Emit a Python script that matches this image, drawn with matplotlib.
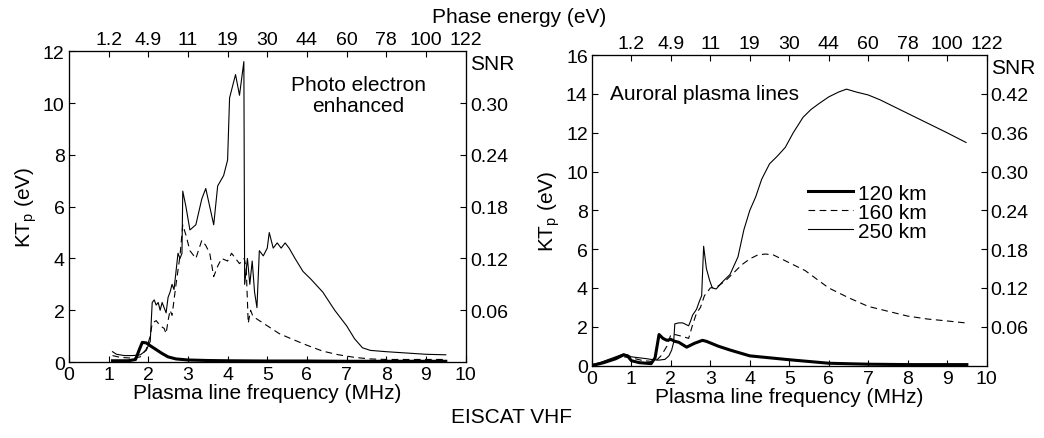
import matplotlib
matplotlib.use('Agg')
from matplotlib import pyplot as plt
from matplotlib.lines import Line2D

plt.rcParams['font.family'] = ['Liberation Sans', 'DejaVu Sans']
plt.rcParams['font.size'] = 14

# top axis labels (phase energy, eV) at 1..10 MHz
energy_ticks = [1, 2, 3, 4, 5, 6, 7, 8, 9, 10]
energy_labels = ['1.2', '4.9', '11', '19', '30', '44', '60', '78', '100', '122']

# ---- left panel: photo electron enhanced ----
l250_f = [1.1, 1.2, 1.4, 1.6, 1.8, 1.95, 2.05, 2.1, 2.15, 2.2, 2.25, 2.3, 2.35, 2.4, 2.45, 2.5, 2.55, 2.6,
          2.65, 2.7, 2.75, 2.8, 2.85, 2.87, 2.95, 3.05, 3.2, 3.35, 3.45, 3.55, 3.65, 3.75, 3.9, 4.0, 4.05,
          4.2, 4.3, 4.41, 4.43, 4.5, 4.56, 4.62, 4.68, 4.74, 4.8, 4.9, 5.0, 5.05, 5.15, 5.25, 5.35, 5.45,
          5.55, 5.7, 5.9, 6.1, 6.4, 6.7, 7.0, 7.2, 7.4, 7.6, 8.0, 8.5, 9.0, 9.5]
l250_kt = [0.4, 0.3, 0.25, 0.25, 0.28, 0.45, 0.8, 2.3, 2.4, 2.2, 2.3, 2.0, 2.3, 2.1, 1.9, 2.5, 2.7, 3.0,
           2.8, 3.5, 4.2, 4.0, 4.2, 6.6, 6.0, 5.1, 5.3, 6.3, 6.7, 6.0, 5.3, 6.8, 7.2, 7.8, 10.2,
           11.1, 10.3, 11.6, 3.0, 4.0, 3.0, 3.9, 2.7, 2.1, 4.3, 4.1, 4.4, 5.0, 4.4, 4.6, 4.4, 4.6,
           4.4, 4.0, 3.5, 3.2, 2.7, 2.0, 1.4, 0.9, 0.55, 0.45, 0.4, 0.35, 0.3, 0.28]

l160_f = [1.1, 1.3, 1.6, 1.8, 1.95, 2.05, 2.1, 2.2, 2.3, 2.4, 2.45, 2.5, 2.55, 2.6, 2.7, 2.8, 2.87, 2.95,
          3.05, 3.2, 3.35, 3.45, 3.55, 3.65, 3.75, 3.85, 4.0, 4.1, 4.2, 4.3, 4.42, 4.47, 4.52, 4.58, 4.63,
          4.7, 4.8, 5.0, 5.3, 5.6, 6.0, 6.4, 6.8, 7.2, 7.6, 8.0, 8.5, 9.0, 9.5]
l160_kt = [0.25, 0.18, 0.15, 0.2, 0.5, 1.0, 1.5, 1.6, 1.4, 1.3, 1.1, 1.6, 2.0, 1.8, 3.0, 4.1, 5.3, 4.9,
           4.3, 4.0, 4.7, 4.5, 4.2, 3.3, 3.7, 4.0, 3.9, 4.2, 4.0, 3.8, 4.0, 3.6, 1.5, 2.0, 1.8,
           1.7, 1.6, 1.4, 1.1, 0.9, 0.65, 0.42, 0.28, 0.18, 0.12, 0.1, 0.1, 0.1, 0.1]

l120_f = [1.1, 1.5, 1.68, 1.78, 1.85, 1.95, 2.05, 2.2, 2.35, 2.5, 2.7, 3.0, 3.5, 4.0, 5.0, 6.0, 7.0, 8.0, 9.5]
l120_kt = [0.05, 0.05, 0.1, 0.5, 0.76, 0.74, 0.63, 0.48, 0.33, 0.2, 0.12, 0.08, 0.06, 0.05, 0.04, 0.04, 0.03, 0.03, 0.03]

# ---- right panel: auroral plasma lines ----
r250_f = [0, 0.2, 0.4, 0.6, 0.8, 0.9, 1.0, 1.2, 1.4, 1.55, 1.7, 1.85, 1.95, 2.02, 2.07, 2.1, 2.2, 2.3,
          2.4, 2.45, 2.5, 2.55, 2.65, 2.72, 2.78, 2.83, 2.9, 2.98, 3.05, 3.15, 3.3, 3.5, 3.7, 3.85, 4.0,
          4.15, 4.3, 4.5, 4.7, 4.9, 5.1, 5.35, 5.55, 5.75, 6.0, 6.25, 6.45, 6.7, 7.0, 7.3, 7.6, 8.05,
          8.5, 9.0, 9.48]
r250_kt = [0.0, 0.15, 0.3, 0.45, 0.6, 0.55, 0.45, 0.4, 0.35, 0.3, 0.28, 0.32, 0.5, 0.8, 1.2, 2.15, 2.2, 2.2,
           2.1, 2.05, 2.3, 2.6, 2.9, 3.3, 3.6, 6.15, 5.0, 4.4, 4.0, 3.95, 4.3, 4.7, 5.6, 7.0, 8.0,
           8.7, 9.6, 10.4, 10.8, 11.25, 12.0, 12.8, 13.2, 13.5, 13.85, 14.1, 14.25, 14.1, 13.95, 13.7, 13.4, 12.95,
           12.5, 12.0, 11.5]

r160_f = [0, 0.3, 0.6, 0.8, 1.0, 1.3, 1.6, 1.75, 1.9, 2.0, 2.1, 2.3, 2.45, 2.55, 2.65, 2.75, 2.85, 3.0,
          3.2, 3.4, 3.6, 3.8, 4.0, 4.2, 4.4, 4.6, 5.0, 5.4, 6.0, 6.5, 7.0, 7.5, 8.0, 8.5, 9.0, 9.46]
r160_kt = [0.05, 0.2, 0.4, 0.45, 0.4, 0.25, 0.2, 0.5, 1.0, 1.6, 1.6, 1.5, 1.4, 2.1, 2.7, 3.0, 3.6, 4.0,
           4.1, 4.4, 4.8, 5.2, 5.5, 5.7, 5.75, 5.7, 5.3, 4.9, 4.0, 3.5, 3.05, 2.8, 2.55, 2.4, 2.3, 2.2]

r120_f = [0, 0.3, 0.6, 0.8, 0.9, 1.0, 1.2, 1.5, 1.6, 1.7, 1.8, 1.9, 2.0, 2.1, 2.2, 2.4, 2.6, 2.8, 2.9,
          3.2, 3.5, 4.0, 4.5, 5.0, 6.0, 7.0, 8.0, 9.5]
r120_kt = [0.0, 0.15, 0.35, 0.55, 0.5, 0.25, 0.15, 0.1, 0.4, 1.6, 1.4, 1.3, 1.35, 1.25, 1.2, 0.95, 1.15, 1.3, 1.25,
           1.0, 0.8, 0.5, 0.4, 0.3, 0.12, 0.07, 0.05, 0.05]

left_snr_ticks = [0.06, 0.12, 0.18, 0.24, 0.30]
right_snr_ticks = [0.06, 0.12, 0.18, 0.24, 0.30, 0.36, 0.42]

fig = plt.figure(figsize=(10.44, 4.39), dpi=100)


def setup(ax, ymax, yticks, snr_ticks, snr_max):
    ax.set_xlim(0, 10)
    ax.set_ylim(0, ymax)
    ax.set_xticks(range(0, 11))
    ax.set_yticks(yticks)
    ax.tick_params(direction='in', length=4, width=0.8, top=False, right=False, pad=3)
    ax.set_xlabel('Plasma line frequency (MHz)', labelpad=0, fontsize=15)
    ax.set_ylabel(r'KT$_\mathregular{p}$ (eV)', labelpad=3, fontsize=15)
    for s in ax.spines.values():
        s.set_linewidth(0.8)

    ax2 = ax.twinx()
    ax2.set_ylim(0, snr_max)
    ax2.set_yticks(snr_ticks)
    ax2.set_yticklabels(['%.2f' % v for v in snr_ticks])
    ax2.tick_params(direction='in', length=4, width=0.8, pad=3)
    ax2.text(1.012, 0.96, 'SNR', transform=ax.transAxes, ha='left', va='center', fontsize=15)

    ax3 = ax.twiny()
    ax3.set_xlim(0, 10)
    ax3.set_xticks(energy_ticks)
    ax3.set_xticklabels(energy_labels)
    ax3.tick_params(direction='in', length=4, width=0.8, pad=2)


axL = fig.add_axes([0.066, 0.173, 0.380, 0.708])
axL.plot(l250_f, l250_kt, color='black', lw=0.8)
axL.plot(l160_f, l160_kt, color='black', lw=0.8, dashes=(6, 4))
axL.plot(l120_f, l120_kt, color='black', lw=2.2)
setup(axL, 12, [0, 2, 4, 6, 8, 10, 12], left_snr_ticks, 0.36)
axL.text(0.73, 0.86, 'Photo electron\nenhanced', transform=axL.transAxes, ha='center', va='center',
         linespacing=1.15, fontsize=15)

axR = fig.add_axes([0.567, 0.165, 0.378, 0.707])
axR.plot(r250_f, r250_kt, color='black', lw=0.8)
axR.plot(r160_f, r160_kt, color='black', lw=0.8, dashes=(6, 4))
axR.plot(r120_f, r120_kt, color='black', lw=2.2)
setup(axR, 16, [0, 2, 4, 6, 8, 10, 12, 14, 16], right_snr_ticks, 0.48)
axR.text(0.045, 0.875, 'Auroral plasma lines', transform=axR.transAxes, ha='left', va='center', fontsize=15)

handles = [Line2D([], [], color='black', lw=2.2),
           Line2D([], [], color='black', lw=0.8, dashes=(6, 4)),
           Line2D([], [], color='black', lw=0.8)]
axR.legend(handles, ['120 km', '160 km', '250 km'], loc='upper left', bbox_to_anchor=(0.52, 0.62),
           frameon=False, handlelength=2.2, handletextpad=0.2, labelspacing=0.0, borderpad=0,
           fontsize=15)

fig.text(0.497, 0.96, 'Phase energy (eV)', ha='center', va='center', fontsize=15)
fig.text(0.49, 0.048, 'EISCAT VHF', ha='center', va='center', fontsize=15)

fig.savefig('out.png', dpi=100)
